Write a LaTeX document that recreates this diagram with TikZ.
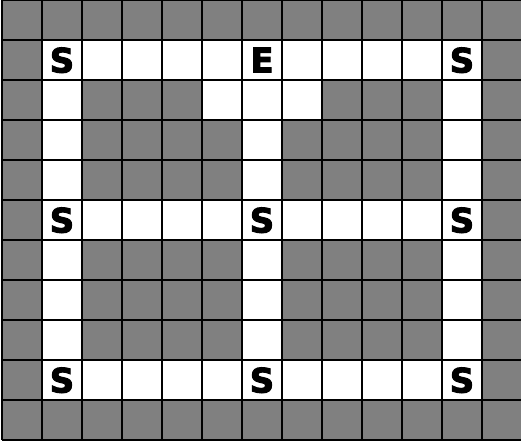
\documentclass[tikz,border=0pt]{standalone}
\usepackage{fontspec}
\newfontfamily\mazefont{DejaVu Sans}[FakeBold=3]
\definecolor{wallgray}{RGB}{128,128,128}
\tikzset{mark label/.style={font=\mazefont\bfseries\fontsize{24}{24}\selectfont,inner sep=0pt,text depth=0pt}}
\begin{document}
\begin{tikzpicture}[scale=1.0]
\useasboundingbox (-0.05,-0.1) rectangle (12.975,11);
\fill[wallgray] (0,0) rectangle (13,11);
% open corridors
\fill[white] (1,9) rectangle (12,10);
\fill[white] (1,5) rectangle (12,6);
\fill[white] (1,1) rectangle (12,2);
\fill[white] (1,1) rectangle (2,10);
\fill[white] (6,1) rectangle (7,10);
\fill[white] (11,1) rectangle (12,10);
\fill[white] (5,8) rectangle (8,9);
\draw[line width=1.4pt] (0,0) grid (13,11);
\node[mark label] (s1) at (1.5,9.5) {S};
\node[mark label] (e) at (6.5,9.5) {E};
\node[mark label] (s2) at (11.5,9.5) {S};
\node[mark label] (s3) at (1.5,5.5) {S};
\node[mark label] (s4) at (6.5,5.5) {S};
\node[mark label] (s5) at (11.5,5.5) {S};
\node[mark label] (s6) at (1.5,1.5) {S};
\node[mark label] (s7) at (6.5,1.5) {S};
\node[mark label] (s8) at (11.5,1.5) {S};
\end{tikzpicture}
\end{document}
